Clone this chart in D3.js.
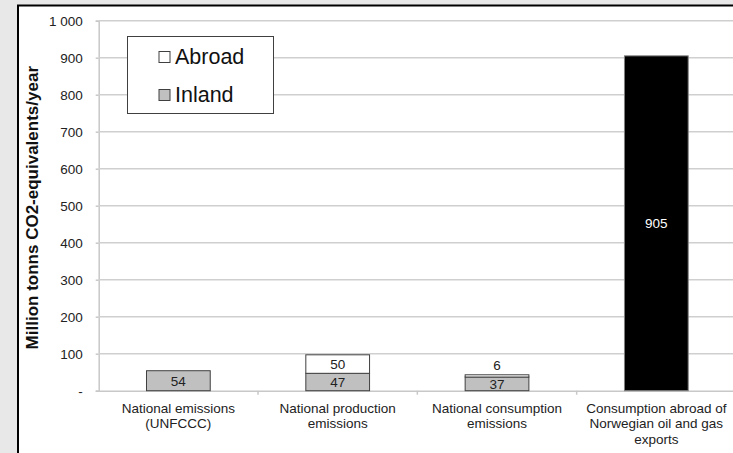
<!DOCTYPE html>
<html lang="en">
<head>
    <meta charset="UTF-8">
    <script src="https://d3js.org/d3.v7.min.js"></script>
    <title>Norwegian emissions</title>
    <style>
        body { margin: 0; background: #e8e8e8; }
        svg { display: block; font-family: "Liberation Sans", Arial, sans-serif; }
    </style>
</head>
<body>
    <div id="chart"></div>
    <script>
        const categories = ["National emissions\n(UNFCCC)", "National production\nemissions",
            "National consumption\nemissions", "Consumption abroad of\nNorwegian oil and gas\nexports"];
        const inland = [54, 47, 37, 0];
        const abroad = [0, 50, 6, 905];
        const yTicks = [0, 100, 200, 300, 400, 500, 600, 700, 800, 900, 1000];
        const yTickLabels = ["-", "100", "200", "300", "400", "500", "600", "700", "800", "900", "1 000"];
        const seriesNames = ["Abroad", "Inland"];

        const width = 733, height = 453;
        const margin = { top: 20.7, right: -3, bottom: 62.3, left: 98.7 };

        const svg = d3.select("#chart").append("svg")
            .attr("width", width)
            .attr("height", height);

        // white chart box with black frame
        svg.append("rect")
            .attr("x", 18).attr("y", 5.5)
            .attr("width", width + 20).attr("height", height + 20)
            .attr("fill", "#fff")
            .attr("stroke", "#000")
            .attr("stroke-width", 2);

        const x = d3.scaleBand()
            .domain(categories)
            .range([margin.left, width - margin.right])
            .padding(0);

        const y = d3.scaleLinear()
            .domain([0, 1000])
            .range([height - margin.bottom, margin.top]);

        const barW = x.bandwidth() * 0.4;
        const barX = d => x(d) + (x.bandwidth() - barW) / 2;

        // gridlines + y ticks
        const yAxis = svg.append("g")
            .attr("transform", `translate(${margin.left},0)`)
            .call(d3.axisLeft(y).tickValues(yTicks)
                .tickSize(3)
                .tickFormat((d, i) => yTickLabels[i]));
        yAxis.select(".domain").attr("stroke", "#c8c8c8").attr("stroke-width", 1.5);
        yAxis.selectAll(".tick line").attr("stroke", "#c8c8c8").attr("stroke-width", 1.5);
        yAxis.selectAll(".tick text")
            .attr("x", -16)
            .attr("font-size", "13.5px")
            .attr("font-family", "Liberation Sans, Arial, sans-serif")
            .attr("fill", "#222");

        svg.append("g")
            .selectAll("line")
            .data(yTicks.slice(1))
            .enter()
            .append("line")
            .attr("x1", margin.left)
            .attr("x2", width)
            .attr("y1", d => y(d))
            .attr("y2", d => y(d))
            .attr("stroke", "#cfcfcf")
            .attr("stroke-width", 1.5);

        // x axis
        const xAxis = svg.append("g")
            .attr("transform", `translate(0,${y(0)})`)
            .call(d3.axisBottom(x).tickSize(0).tickFormat(""));
        xAxis.select(".domain").attr("stroke", "#c8c8c8").attr("stroke-width", 1.5);

        svg.append("g")
            .selectAll("line")
            .data(categories.slice(1))
            .enter()
            .append("line")
            .attr("x1", d => x(d))
            .attr("x2", d => x(d))
            .attr("y1", y(0))
            .attr("y2", y(0) + 4)
            .attr("stroke", "#c8c8c8")
            .attr("stroke-width", 1.5);

        const xl = svg.append("g")
            .selectAll("text")
            .data(categories)
            .enter()
            .append("text")
            .attr("x", d => x(d) + x.bandwidth() / 2)
            .attr("y", y(0) + 22)
            .attr("text-anchor", "middle")
            .attr("font-size", "13.5px")
            .attr("fill", "#222");
        xl.each(function(d) {
            d.split("\n").forEach((line, i) => {
                d3.select(this).append("tspan")
                    .attr("x", x(d) + x.bandwidth() / 2)
                    .attr("dy", i === 0 ? 0 : 15.5)
                    .text(line);
            });
        });

        // inland bars
        svg.append("g")
            .selectAll("rect")
            .data(categories)
            .enter()
            .filter((d, i) => inland[i] > 0)
            .append("rect")
            .attr("x", d => barX(d))
            .attr("y", (d, i) => y(inland[categories.indexOf(d)]))
            .attr("width", barW)
            .attr("height", d => y(0) - y(inland[categories.indexOf(d)]))
            .attr("fill", "#c0c0c0")
            .attr("stroke", "#404040")
            .attr("stroke-width", 1);

        // abroad bars (oil and gas exports drawn in black)
        svg.append("g")
            .selectAll("rect")
            .data(categories)
            .enter()
            .filter((d, i) => abroad[i] > 0)
            .append("rect")
            .attr("x", d => barX(d))
            .attr("y", d => { const i = categories.indexOf(d); return y(inland[i] + abroad[i]); })
            .attr("width", barW)
            .attr("height", d => { const i = categories.indexOf(d); return y(inland[i]) - y(inland[i] + abroad[i]); })
            .attr("fill", (d, i) => categories.indexOf(d) === 3 ? "#000" : "#fff")
            .attr("stroke", (d, i) => categories.indexOf(d) === 3 ? "#808080" : "#404040")
            .attr("stroke-width", 1);

        // value labels
        const labels = svg.append("g")
            .attr("font-size", "13.5px")
            .attr("text-anchor", "middle");

        categories.forEach((c, i) => {
            const cx = x(c) + x.bandwidth() / 2;
            if (inland[i] > 0) {
                labels.append("text")
                    .attr("x", cx)
                    .attr("y", (y(0) + y(inland[i])) / 2 + 5)
                    .attr("fill", "#222")
                    .text(inland[i]);
            }
            if (abroad[i] > 0) {
                const top = y(inland[i] + abroad[i]), bot = y(inland[i]);
                const small = bot - top < 15;
                labels.append("text")
                    .attr("x", cx)
                    .attr("y", small ? top - 5 : (top + bot) / 2 + 5)
                    .attr("fill", i === 3 ? "#fff" : "#222")
                    .text(abroad[i]);
            }
        });

        // y axis title
        svg.append("text")
            .attr("transform", `translate(38,${(y(0) + y(1000)) / 2 + 2}) rotate(-90)`)
            .attr("text-anchor", "middle")
            .attr("font-size", "17px")
            .attr("font-weight", "bold")
            .attr("fill", "#111")
            .text("Million tonns CO2-equivalents/year");

        // legend
        const legend = svg.append("g");
        legend.append("rect")
            .attr("x", 127.5).attr("y", 36.5)
            .attr("width", 146).attr("height", 77)
            .attr("fill", "#fff")
            .attr("stroke", "#404040")
            .attr("stroke-width", 1);
        const legendFill = ["#fff", "#c0c0c0"];
        seriesNames.forEach((s, i) => {
            legend.append("rect")
                .attr("x", 159).attr("y", 51.5 + i * 38)
                .attr("width", 11).attr("height", 11)
                .attr("fill", legendFill[i])
                .attr("stroke", "#404040");
            legend.append("text")
                .attr("x", 175).attr("y", 63.5 + i * 38)
                .attr("font-size", "21.5px")
                .attr("fill", "#111")
                .text(s);
        });
    </script>
</body>
</html>
